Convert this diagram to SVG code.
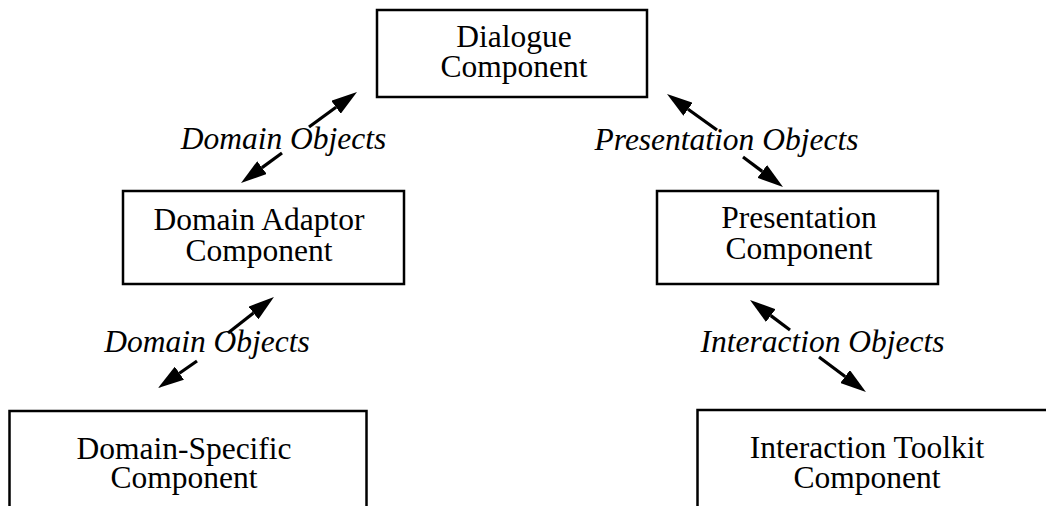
<svg xmlns="http://www.w3.org/2000/svg" width="1046" height="506" viewBox="0 0 1046 506">
<defs>
<style>
.box{fill:#fff;stroke:#000;stroke-width:2.5}
.t{font-family:"Liberation Serif","Times New Roman",serif;font-size:31.5px;fill:#000;text-anchor:middle}
.lbl{font-family:"Liberation Serif","Times New Roman",serif;font-size:31.5px;font-style:italic;fill:#000;text-anchor:middle}
.c{stroke:#000;stroke-width:3.2;fill:none;marker-end:url(#ah)}
</style>
<marker id="ah" viewBox="0 0 26 16" refX="0" refY="8" markerWidth="26" markerHeight="16" markerUnits="userSpaceOnUse" orient="auto">
<path d="M0,0 L26,8 L0,16 z" fill="#000"/>
</marker>
</defs>
<rect width="1046" height="506" fill="#fff"/>
<g id="dialogue">
<rect class="box" x="377" y="10" width="270" height="87"/>
<text class="t" x="514" y="47">Dialogue</text>
<text class="t" x="514" y="77">Component</text>
</g>
<g id="domain-adaptor">
<rect class="box" x="123" y="191" width="281" height="93"/>
<text class="t" x="259" y="230">Domain Adaptor</text>
<text class="t" x="259" y="261">Component</text>
</g>
<g id="presentation">
<rect class="box" x="657" y="191" width="281" height="93"/>
<text class="t" x="799" y="228">Presentation</text>
<text class="t" x="799" y="259">Component</text>
</g>
<g id="domain-specific">
<rect class="box" x="9.5" y="411" width="357" height="120"/>
<text class="t" x="184" y="459">Domain-Specific</text>
<text class="t" x="184" y="488">Component</text>
</g>
<g id="interaction-toolkit">
<rect class="box" x="697.5" y="410" width="380" height="120"/>
<text class="t" x="867" y="458">Interaction Toolkit</text>
<text class="t" x="867" y="488">Component</text>
</g>
<g id="labels">
<text class="lbl" x="283.5" y="149">Domain Objects</text>
<text class="lbl" x="726.5" y="150">Presentation Objects</text>
<text class="lbl" x="207" y="352">Domain Objects</text>
<text class="lbl" x="822.5" y="352">Interaction Objects</text>
</g>
<g id="connectors">
<line class="c" x1="309" y1="127" x2="336.0" y2="107.3"/>
<line class="c" x1="282" y1="153" x2="262.0" y2="167.6"/>
<line class="c" x1="228" y1="333" x2="253.5" y2="313.0"/>
<line class="c" x1="197" y1="361" x2="179.4" y2="373.2"/>
<line class="c" x1="717" y1="130" x2="688.1" y2="109.2"/>
<line class="c" x1="743" y1="157" x2="762.2" y2="171.4"/>
<line class="c" x1="790" y1="330" x2="770.8" y2="315.6"/>
<line class="c" x1="819" y1="357" x2="845.1" y2="376.5"/>
</g>
</svg>
